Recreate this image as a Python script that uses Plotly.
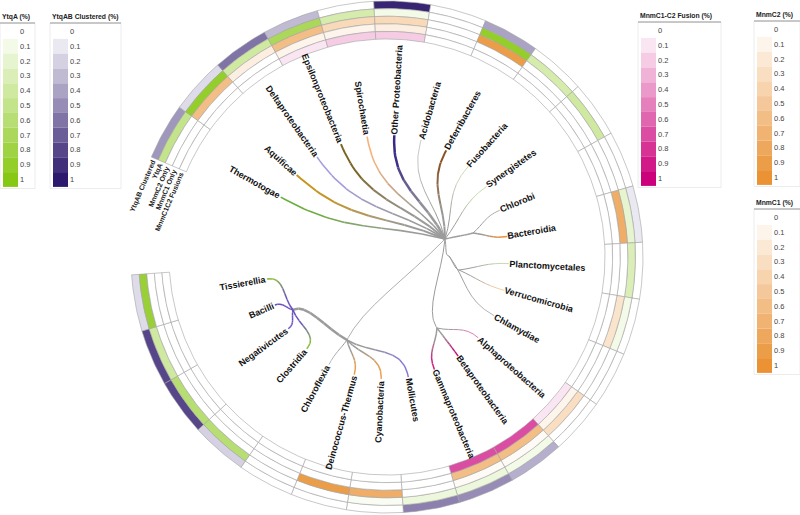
import math
import numpy as np
import plotly.graph_objects as go

# ---------------- data ----------------
clades = ["Thermotogae", "Aquificae", "Deltaproteobacteria", "Epsilonproteobacteria", "Spirochaetia",
          "Other Proteobacteria", "Acidobacteria", "Deferribacteres", "Fusobacteria", "Synergistetes",
          "Chlorobi", "Bacteroidia", "Planctomycetales", "Verrucomicrobia", "Chlamydiae",
          "Alphaproteobacteria", "Betaproteobacteria", "Gammaproteobacteria", "Mollicutes",
          "Cyanobacteria", "Deinococcus-Thermus", "Chloroflexia", "Clostridia", "Negativicutes",
          "Bacilli", "Tissierellia"]
ytqab_clustered = [0.45, 0.15, 0.6, 0.3, 0.0, 0.95, 0.0, 0.4, 0.0, 0.0, 0.0, 0.1, 0.0, 0.0, 0.0,
                   0.0, 0.35, 0.5, 0.55, 0.0, 0.0, 0.0, 0.2, 0.8, 0.8, 0.15]
ytqa = [0.5, 0.9, 0.4, 0.7, 0.35, 0.1, 0.0, 0.9, 0.35, 0.4, 0.0, 0.2, 0.3, 0.1, 0.0,
        0.0, 0.1, 0.15, 0.15, 0.05, 0.0, 0.0, 0.6, 0.6, 0.4, 0.85]
mnmc2_only = [0.0, 0.6, 0.15, 0.6, 0.35, 0.35, 0.0, 0.9, 0.0, 0.0, 0.0, 0.75, 0.0, 0.25, 0.0,
              0.3, 0.05, 0.05, 0.0, 0.75, 0.9, 0.0, 0.0, 0.0, 0.0, 0.0]
mnmc1_only = [0.0, 0.0, 0.0, 0.1, 0.1, 0.15, 0.0, 0.0, 0.0, 0.0, 0.0, 0.0, 0.0, 0.0, 0.0,
              0.1, 0.6, 0.6, 0.0, 0.0, 0.0, 0.0, 0.0, 0.0, 0.0, 0.0]
mnmc1c2_fusion = [0.0, 0.0, 0.0, 0.1, 0.2, 0.2, 0.0, 0.0, 0.0, 0.0, 0.0, 0.0, 0.0, 0.0, 0.0,
                  0.1, 0.7, 0.7, 0.0, 0.0, 0.0, 0.0, 0.0, 0.0, 0.0, 0.0]
track_names = ["YtqAB Clustered", "YtqA", "MnmC2 Only", "MnmC1 Only", "MnmC1C2 Fusions"]
legend_titles = ["YtqA (%)", "YtqAB Clustered (%)", "MnmC1-C2 Fusion (%)", "MnmC2 (%)", "MnmC1 (%)"]
legend_ticks = [0, 0.1, 0.2, 0.3, 0.4, 0.5, 0.6, 0.7, 0.8, 0.9, 1]

# tree topology: (parent, child)
tree_edges = [("hub", "Thermotogae"), ("hub", "Aquificae"), ("hub", "Deltaproteobacteria"),
              ("hub", "Epsilonproteobacteria"), ("hub", "Spirochaetia"), ("hub", "Other Proteobacteria"),
              ("hub", "Acidobacteria"), ("hub", "Deferribacteres"), ("hub", "Fusobacteria"),
              ("hub", "Synergistetes"), ("hub", "CB"), ("CB", "Chlorobi"), ("CB", "Bacteroidia"),
              ("hub", "PVC"), ("PVC", "PV"), ("PV", "Planctomycetales"), ("PV", "Verrucomicrobia"),
              ("PVC", "Chlamydiae"), ("hub", "ABG"), ("ABG", "Alphaproteobacteria"),
              ("ABG", "Betaproteobacteria"), ("ABG", "Gammaproteobacteria"), ("hub", "T"),
              ("T", "Mollicutes"), ("T", "Cyanobacteria"), ("T", "Deinococcus-Thermus"),
              ("T", "Chloroflexia"), ("T", "F"), ("F", "Clostridia"), ("F", "Negativicutes"),
              ("F", "Bacilli"), ("F", "Tissierellia")]

# ---------------- styles / layout ----------------
W, H = 800, 515
CX, CY = 387, 257
R_OUT, TW = 256, 7.6
START, SWEEP = 157.0, 333.0
LEAF_R = 122
GRID = "#a3a3a3"
GRAY = (155, 155, 155)
GREEN, PURPLE, ORANGE, MAGENTA = (135, 200, 20), (44, 24, 108), (234, 146, 52), (204, 0, 122)
FONT = "Liberation Sans, Arial, sans-serif"

leaf_color = {
    "Thermotogae": (106, 174, 60), "Aquificae": (200, 150, 30), "Deltaproteobacteria": (164, 158, 224),
    "Epsilonproteobacteria": (122, 100, 36), "Spirochaetia": (246, 178, 122),
    "Other Proteobacteria": (58, 40, 136), "Acidobacteria": (200, 200, 200),
    "Deferribacteres": (138, 82, 34), "Fusobacteria": (205, 220, 188), "Synergistetes": (200, 222, 176),
    "Chlorobi": (176, 176, 176), "Bacteroidia": (232, 144, 58), "Planctomycetales": (197, 221, 176),
    "Verrucomicrobia": (243, 207, 168), "Chlamydiae": (180, 180, 180),
    "Alphaproteobacteria": (232, 122, 184), "Betaproteobacteria": (200, 16, 122),
    "Gammaproteobacteria": (208, 26, 128), "Mollicutes": (136, 120, 216), "Cyanobacteria": (236, 160, 80),
    "Deinococcus-Thermus": (232, 160, 74), "Chloroflexia": (184, 184, 184), "Clostridia": (140, 192, 64),
    "Negativicutes": (110, 88, 200), "Bacilli": (106, 76, 192), "Tissierellia": (144, 192, 64)}
VIOLET = (106, 80, 192)
edge_width = {"Thermotogae": 1.6, "Aquificae": 2, "Deltaproteobacteria": 1.6, "Epsilonproteobacteria": 2,
              "Spirochaetia": 1.6, "Other Proteobacteria": 2.5, "Acidobacteria": 1, "Deferribacteres": 2,
              "Fusobacteria": 1, "Synergistetes": 1, "CB": 1.5, "Chlorobi": 1, "Bacteroidia": 1.5,
              "PVC": 1, "PV": 1, "Planctomycetales": 1, "Verrucomicrobia": 1, "Chlamydiae": 1,
              "ABG": 1, "Alphaproteobacteria": 1, "Betaproteobacteria": 1.5, "Gammaproteobacteria": 1.5,
              "T": 0.8, "Mollicutes": 1.5, "Cyanobacteria": 1.5, "Deinococcus-Thermus": 1.5,
              "Chloroflexia": 1, "F": 2.5, "Clostridia": 1.5, "Negativicutes": 1.5, "Bacilli": 1.5,
              "Tissierellia": 1.5}
internal_pos = {"hub": (58, 18), "CB": (86, 24), "PVC": (62, 1), "PV": (72, -13),
                "ABG": (50, -71), "T": (-40, -83), "F": (-94, -53)}


def mix(full, v, base=(255, 255, 255)):
    c = [round(base[j] * (1 - v) + full[j] * v) for j in range(3)]
    return f"rgb({c[0]},{c[1]},{c[2]})"


def pol(r, deg):
    a = math.radians(deg)
    return r * math.cos(a), r * math.sin(a)


n = len(clades)
STEP = SWEEP / n
fig = go.Figure()

# ---------------- heatmap rings ----------------
tracks = [(ytqab_clustered, PURPLE), (ytqa, GREEN), (mnmc2_only, ORANGE),
          (mnmc1_only, ORANGE), (mnmc1c2_fusion, MAGENTA)]
for k, (vals, full) in enumerate(tracks):
    ro = R_OUT - k * TW
    ri = ro - TW
    for i, v in enumerate(vals):
        a0 = START - i * STEP
        angs = np.radians(np.linspace(a0, a0 - STEP, 24))
        xs = np.concatenate([ro * np.cos(angs), ri * np.cos(angs[::-1]), [ro * np.cos(angs[0])]])
        ys = np.concatenate([ro * np.sin(angs), ri * np.sin(angs[::-1]), [ro * np.sin(angs[0])]])
        fig.add_trace(go.Scatter(x=xs, y=ys, mode="lines", fill="toself", fillcolor=mix(full, v),
                                 line=dict(color=GRID, width=0.6), hoverinfo="skip", showlegend=False))

# ---------------- tree ----------------
pos = dict(internal_pos)
leaf_angle = {}
for i, c in enumerate(clades):
    leaf_angle[c] = START - (i + 0.5) * STEP
    pos[c] = pol(LEAF_R, leaf_angle[c])


def bez(p0, p3, leaf):
    p0 = np.array(p0, float)
    p3 = np.array(p3, float)
    d = np.linalg.norm(p3 - p0)
    u = p3 / np.linalg.norm(p3)
    b = 0.45 if leaf else 0.25
    p1 = p0 + 0.4 * (p3 - p0)
    p2 = p3 - b * d * u
    t = np.linspace(0, 1, 41)[:, None]
    return ((1 - t) ** 3) * p0 + 3 * ((1 - t) ** 2) * t * p1 + 3 * (1 - t) * t * t * p2 + t ** 3 * p3


for parent, child in tree_edges:
    leaf = child in leaf_color
    pts = bez(pos[parent], pos[child], leaf)
    w = edge_width[child]
    start_c = VIOLET if parent == "F" else GRAY
    end_c = leaf_color[child] if leaf else start_c
    npc = 8
    for p in range(npc):
        seg = pts[p * 5:(p + 1) * 5 + 1]
        tm = (p + 0.5) / npc
        f = min(1.0, max(0.0, (tm - 0.25) / 0.6))
        col = mix(end_c, f, base=start_c)
        fig.add_trace(go.Scatter(x=seg[:, 0], y=seg[:, 1], mode="lines",
                                 line=dict(color=col, width=w), hoverinfo="skip", showlegend=False))

annotations = []
HID = '<span style="color:rgba(0,0,0,0)">{}</span>'
NB = "\u00a0"

# leaf labels
for c in clades:
    th = leaf_angle[c]
    x, y = pos[c]
    if -90 < th < 90:
        txt = HID.format(c) + NB + c
        ang = -th
    else:
        txt = c + NB + HID.format(c)
        ang = -(th + 180)
    while ang <= -180:
        ang += 360
    while ang > 180:
        ang -= 360
    annotations.append(dict(x=x, y=y, xref="x", yref="y", text=txt, showarrow=False, textangle=ang,
                            xanchor="center", yanchor="middle",
                            font=dict(family=FONT, size=9, color="#111", weight="bold")))

# track labels in the gap
for k, name in enumerate(track_names):
    r = R_OUT - (k + 0.5) * TW
    x, y = pol(r, START + 0.4)
    annotations.append(dict(x=x, y=y, xref="x", yref="y", text=name + NB + HID.format(name),
                            showarrow=False, textangle=-(START - 90), xanchor="center", yanchor="middle",
                            font=dict(family=FONT, size=7, color="#222", weight="bold")))

# ---------------- legends ----------------
shapes = []


def PX(x):
    return x / W


def PY(y):
    return 1 - y / H


legend_specs = [(legend_titles[0], 3, 17, 35, GREEN), (legend_titles[1], 53, 17, 121, PURPLE),
                (legend_titles[2], 641, 16, 721, MAGENTA), (legend_titles[3], 757, 15, 800, ORANGE),
                (legend_titles[4], 757, 203, 800, ORANGE)]
for title, x0, ty, xr, full in legend_specs:
    annotations.append(dict(x=PX(x0 - 2), y=PY(ty), xref="paper", yref="paper", text=title,
                            showarrow=False, xanchor="left", yanchor="middle", borderpad=0,
                            font=dict(family=FONT, size=6.8, color="#222", weight="bold")))
    ly = [ty + 14.5 + 14.8 * i for i in range(len(legend_ticks))]
    shapes.append(dict(type="rect", xref="paper", yref="paper", x0=PX(x0 - 3), x1=PX(xr),
                       y0=PY(ty + 6), y1=PY(ly[-1] + 9), line=dict(color="#ececec", width=1),
                       fillcolor="rgba(255,255,255,0)", layer="below"))
    shapes.append(dict(type="line", xref="paper", yref="paper", x0=PX(x0 - 3), x1=PX(xr),
                       y0=PY(ty + 6), y1=PY(ty + 6), line=dict(color="#9a9a9a", width=1)))
    for i, v in enumerate(legend_ticks):
        if v > 0:
            shapes.append(dict(type="rect", xref="paper", yref="paper", x0=PX(x0), x1=PX(x0 + 15),
                               y0=PY(ly[i] - 7.4), y1=PY(ly[i] + 7.4), line=dict(width=0),
                               fillcolor=mix(full, v)))
        annotations.append(dict(x=PX(x0 + 16), y=PY(ly[i]), xref="paper", yref="paper",
                                text=f"{v:g}", showarrow=False, xanchor="left", yanchor="middle",
                                borderpad=0, font=dict(family=FONT, size=7.5, color="#444")))

fig.update_layout(width=W, height=H, margin=dict(l=0, r=0, t=0, b=0),
                  paper_bgcolor="white", plot_bgcolor="white", showlegend=False,
                  xaxis=dict(range=[-CX, W - CX], visible=False, fixedrange=True),
                  yaxis=dict(range=[-(H - CY), CY], visible=False, fixedrange=True),
                  annotations=annotations, shapes=shapes)
fig.write_html("out.html", config={"displayModeBar": False},
               post_script="document.body.style.margin='0';document.body.style.overflow='hidden';")
